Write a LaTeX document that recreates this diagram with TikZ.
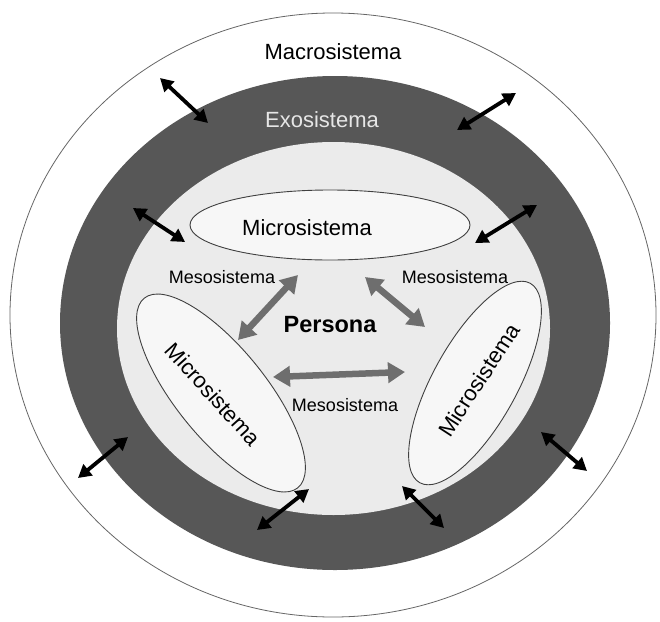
\documentclass[tikz,border=0pt]{standalone}
\usepackage{fontspec}
\setmainfont{Liberation Sans}
\usetikzlibrary{arrows.meta,shapes.geometric}
\definecolor{exo}{HTML}{575757}
\definecolor{meso}{HTML}{EBEBEB}
\definecolor{micro}{HTML}{F7F7F7}
\definecolor{mesoarrow}{HTML}{6E6E6E}
\definecolor{exotext}{HTML}{E6E6E6}
\begin{document}
\begin{tikzpicture}[x=1pt,y=-1pt,
  ring/.style={ellipse, inner sep=0pt},
  microbox/.style={ellipse, draw=black!75, line width=0.9pt, fill=micro, inner sep=0pt},
  bigtext/.style={font=\fontsize{22}{26}\selectfont},
  mesotext/.style={font=\fontsize{18}{22}\selectfont},
  blkarrow/.style={line width=3.8pt, black, <->, >={Triangle[length=13pt,width=14pt]}},
  grayarrow/.style={line width=6.5pt, mesoarrow, <->, >={Triangle[length=17pt,width=20pt]}},
]
\useasboundingbox (0,0) rectangle (660,621);
% rings
\node[ring, draw=black!60, line width=0.8pt, fill=white, minimum width=646pt, minimum height=604pt] (macro) at (333,315) {};
\node[ring, fill=exo, minimum width=550pt, minimum height=494pt] (exo) at (335,323) {};
\node[ring, fill=meso, minimum width=433pt, minimum height=373pt] (meso) at (333.5,328.5) {};
% microsystems
\node[microbox, minimum width=280pt, minimum height=70pt] (microtop) at (330,225) {};
\node[bigtext] (microtoplabel) at (307,228) {Microsistema};
\node[microbox, rotate=-51, minimum width=244pt, minimum height=90pt] (microleft) at (221,393) {};
\node[bigtext, rotate=-48] (microleftlabel) at (213,394) {Microsistema};
\node[microbox, rotate=61, minimum width=228pt, minimum height=84pt] (microright) at (475,383) {};
\node[bigtext, rotate=57] (microrightlabel) at (479,380) {Microsistema};
% labels
\node[bigtext] (macrolabel) at (333,52) {Macrosistema};
\node[bigtext, text=exotext] (exolabel) at (322,120) {Exosistema};
\node[mesotext] (mesoleft) at (222,277) {Mesosistema};
\node[mesotext] (mesoright) at (455,277) {Mesosistema};
\node[mesotext] (mesobottom) at (345,405) {Mesosistema};
\node[font=\fontsize{23.5}{28}\selectfont\bfseries] (persona) at (330,325) {Persona};
% black arrow end points
\coordinate (a1s) at (160,78);  \coordinate (a1e) at (208,123);
\coordinate (a2s) at (457,130); \coordinate (a2e) at (516,93);
\coordinate (a3s) at (133,208); \coordinate (a3e) at (185,242);
\coordinate (a4s) at (475,243); \coordinate (a4e) at (537,205);
\coordinate (a5s) at (78,478);  \coordinate (a5e) at (128,437);
\coordinate (a6s) at (257,530); \coordinate (a6e) at (309,489);
\coordinate (a7s) at (402,486); \coordinate (a7e) at (444,528);
\coordinate (a8s) at (541,432); \coordinate (a8e) at (587,471);
\foreach \i in {1,...,8} \draw[blkarrow] (a\i s) -- (a\i e);
% gray arrows
\coordinate (g1s) at (298,275); \coordinate (g1e) at (238,340);
\coordinate (g2s) at (365,277); \coordinate (g2e) at (425,327);
\coordinate (g3s) at (273,377); \coordinate (g3e) at (405,372);
\foreach \i in {1,2,3} \draw[grayarrow] (g\i s) -- (g\i e);
\end{tikzpicture}
\end{document}
